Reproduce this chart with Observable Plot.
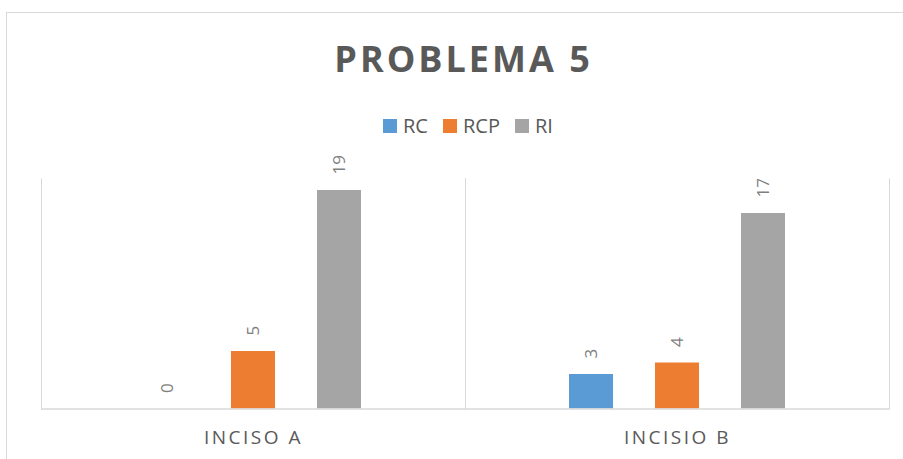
<!DOCTYPE html>
<html>
<head>
<meta charset="utf-8">
<script src="https://cdn.jsdelivr.net/npm/d3@7"></script>
<script src="https://cdn.jsdelivr.net/npm/@observablehq/plot@0.6"></script>
<style>
  html, body { margin: 0; padding: 0; background: #fff; overflow: hidden; }
  #wrap { position: relative; width: 903px; height: 459px; overflow: hidden; font-family: "Open Sans", sans-serif; }
  #border { position: absolute; left: 6px; top: 12px; width: 940px; height: 480px; border: 1px solid #d9d9d9; box-sizing: border-box; }
  #title { position: absolute; left: 0; top: 41px; width: 927px; text-align: center; font-size: 36px; line-height: 36px; font-weight: 700; letter-spacing: 3px; color: #595959; white-space: nowrap; }
  #legend { position: absolute; left: 383px; top: 116px; display: flex; align-items: baseline; font-size: 20px; line-height: 20px; color: #595959; white-space: nowrap; }
  #legend .sw { display: inline-block; width: 14px; height: 14px; margin-right: 6px; }
  #legend .lab { margin-right: 15px; }
  #chart { position: absolute; left: 0; top: 145px; }
</style>
</head>
<body>
<div id="wrap">
  <div id="border"></div>
  <div id="title"></div>
  <div id="legend"></div>
  <div id="chart"></div>
</div>
<script>
const titleText = "PROBLEMA 5";
const groups = ["INCISO A", "INCISIO B"];
const series = ["RC", "RCP", "RI"];
const colors = ["#5B9BD5", "#ED7D31", "#A5A5A5"];
const valuesRC = [0, 3];
const valuesRCP = [5, 4];
const valuesRI = [19, 17];

const seriesValues = [valuesRC, valuesRCP, valuesRI];
const data = [];
groups.forEach((g, gi) => {
  series.forEach((s, si) => {
    data.push({group: g, series: s, value: seriesValues[si][gi]});
  });
});

document.getElementById("title").textContent = titleText;

const legend = d3.select("#legend");
series.forEach((s, i) => {
  legend.append("span").attr("class", "sw").style("background", colors[i]);
  legend.append("span").attr("class", "lab").text(s);
});

const chart = Plot.plot({
  width: 903,
  height: 314,
  marginTop: 33.5,
  marginBottom: 50.5,
  marginLeft: 40,
  marginRight: 14,
  style: {fontFamily: "Open Sans", background: "transparent", overflow: "visible"},
  fx: {domain: groups, padding: 0, label: null},
  x: {domain: series, paddingInner: 0.4828, paddingOuter: 1.181, axis: null},
  y: {domain: [0, 20], axis: null},
  color: {domain: series, range: colors},
  marks: [
    Plot.frame({anchor: "left", stroke: "#d9d9d9"}),
    Plot.frame({anchor: "right", stroke: "#d9d9d9"}),
    Plot.barY(data, {fx: "group", x: "series", y: "value", fill: "series"}),
    Plot.ruleY([0], {stroke: "#d9d9d9", strokeWidth: 1.5}),
    Plot.text(data, {
      fx: "group", x: "series", y: "value",
      text: d => String(d.value),
      rotate: -90, textAnchor: "start", lineAnchor: "middle",
      dy: -16, fill: "#7f7f7f", fontSize: 17
    }),
    Plot.axisFx({
      anchor: "bottom", tickSize: 0, tickPadding: 21, label: null,
      fontSize: 19, fill: "#595959"
    })
  ]
});
d3.select(chart).selectAll("g[aria-label='fx-axis tick label'] text").style("letter-spacing", "2.5px");
document.getElementById("chart").appendChild(chart);
</script>
</body>
</html>
